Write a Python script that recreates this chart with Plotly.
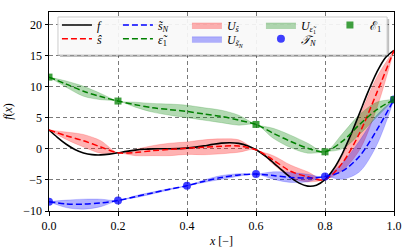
import plotly.graph_objects as go

# ---------------- data ----------------
x_f = [0.0, 0.025, 0.05, 0.075, 0.1, 0.125, 0.15, 0.175, 0.2, 0.225, 0.25, 0.275, 0.3, 0.325,
       0.35, 0.375, 0.4, 0.425, 0.45, 0.475, 0.5, 0.525, 0.55, 0.575, 0.6, 0.625, 0.65, 0.675,
       0.7, 0.725, 0.75, 0.775, 0.8, 0.825, 0.85, 0.875, 0.9, 0.925, 0.95, 0.975, 1.0]
f_true = [3.027, 1.813, 0.738, -0.100, -0.657, -0.935, -0.978, -0.854, -0.640, -0.407, -0.210,
          -0.079, -0.016, -0.000, 0.002, 0.030, 0.115, 0.270, 0.483, 0.717, 0.909, 0.986, 0.871,
          0.503, -0.150, -1.074, -2.209, -3.439, -4.606, -5.522, -5.993, -5.845, -4.951, -3.253,
          -0.799, 2.272, 5.712, 9.187, 12.300, 14.648, 15.830]

x_s = [0.0, 0.05, 0.1, 0.15, 0.2, 0.25, 0.3, 0.35, 0.4, 0.45, 0.5, 0.55, 0.6, 0.65, 0.7, 0.75,
       0.8, 0.85, 0.9, 0.95, 1.0]
s_hat = [3.03, 2.1, 1.3, 0.3, -0.64, -0.6, -0.3, -0.1, 0.1, 0.25, 0.4, 0.45, -0.15, -1.8, -3.6,
         -4.5, -4.95, -2.3, 2.5, 9.0, 15.83]
s_hat_sd = [0.0, 0.6, 1.0, 1.0, 0.0, 0.5, 0.8, 1.0, 1.0, 1.2, 1.2, 1.0, 0.0, 0.7, 1.0, 0.8,
            0.0, 1.2, 2.7, 2.5, 0.0]
s_low = [-8.5, -8.85, -8.9, -8.7, -8.32, -7.7, -7.1, -6.5, -5.94, -5.2, -4.6, -4.2, -4.07, -4.3,
         -4.6, -4.7, -4.47, -3.6, -1.2, 3.0, 7.92]
s_low_sd = [0.0, 0.6, 0.8, 0.6, 0.0, 0.15, 0.15, 0.1, 0.0, 0.2, 0.3, 0.2, 0.0, 0.6, 0.8, 0.6,
            0.0, 1.3, 2.5, 2.4, 0.0]
err = [11.53, 10.4, 9.25, 8.4, 7.68, 7.1, 6.6, 6.3, 6.0, 5.6, 5.2, 4.6, 3.92, 2.5, 1.2, 0.1,
       -0.48, 1.2, 3.9, 6.3, 7.91]
err_sd = [0.0, 0.5, 0.8, 0.5, 0.0, 0.4, 0.7, 0.9, 1.0, 1.0, 1.0, 0.8, 0.0, 0.8, 1.0, 0.8,
          0.0, 1.2, 1.6, 1.2, 0.0]

x_TN = [0.0, 0.2, 0.4, 0.6, 0.8, 1.0]
y_TN = [-8.5, -8.32, -5.94, -4.07, -4.47, 7.92]
x_E1 = [0.0, 0.2, 0.6, 0.8, 1.0]
y_E1 = [11.53, 7.68, 3.92, -0.48, 7.91]

x_ticks = [0.0, 0.2, 0.4, 0.6, 0.8, 1.0]
y_ticks = [-10, -5, 0, 5, 10, 15, 20]

FONT = "Liberation Serif"
# extra legend entry widths in px per column
COLW = [16, 24, 29, 24, 10]

fig = go.Figure()


def band(mean, sd, fill, name, leg, col, rank):
    lo = [m - s for m, s in zip(mean, sd)]
    hi = [m + s for m, s in zip(mean, sd)]
    fig.add_trace(go.Scatter(x=x_s, y=lo, mode="lines",
                             line=dict(width=0.6, color=fill, shape="spline", smoothing=0.9),
                             showlegend=False, hoverinfo="skip"))
    fig.add_trace(go.Scatter(x=x_s, y=hi, mode="lines",
                             line=dict(width=0.6, color=fill, shape="spline", smoothing=0.9),
                             fill="tonexty", fillcolor=fill, name=name, legend=leg,
                             legendwidth=COLW[col], legendrank=rank))


band(s_hat, s_hat_sd, "rgba(255,0,0,0.3)", "<i>U</i><sub><i>ŝ</i></sub>", "legend", 2, 3)
band(s_low, s_low_sd, "rgba(0,0,255,0.3)", "<i>U</i><sub><i>s̃<sub>N</sub></i></sub>", "legend2", 2, 3)
band(err, err_sd, "rgba(0,128,0,0.3)", "<i>U</i><sub><i>ε̃</i><sub>1</sub></sub>", "legend", 3, 4)

fig.add_trace(go.Scatter(x=x_f, y=f_true, mode="lines",
                         line=dict(color="black", width=1.6, shape="spline", smoothing=0.9),
                         name="<i>f</i>", legend="legend", legendwidth=COLW[0], legendrank=1))
dash = "6px,3px"
fig.add_trace(go.Scatter(x=x_s, y=s_hat, mode="lines",
                         line=dict(color="#ff0000", width=1.5, dash=dash, shape="spline", smoothing=0.9),
                         name="<i>ŝ</i>", legend="legend2", legendwidth=COLW[0], legendrank=1))
fig.add_trace(go.Scatter(x=x_s, y=s_low, mode="lines",
                         line=dict(color="#0000ff", width=1.5, dash=dash, shape="spline", smoothing=0.9),
                         name="<i>s̃</i><sub><i>N</i></sub>", legend="legend", legendwidth=COLW[1], legendrank=2))
fig.add_trace(go.Scatter(x=x_s, y=err, mode="lines",
                         line=dict(color="#008000", width=1.5, dash=dash, shape="spline", smoothing=0.9),
                         name="<i>ε̃</i><sub>1</sub>", legend="legend2", legendwidth=COLW[1], legendrank=2))
fig.add_trace(go.Scatter(x=x_TN, y=y_TN, mode="markers",
                         marker=dict(symbol="circle", size=8, color="rgba(0,0,255,0.75)"),
                         name="<i>𝒯</i><sub><i>N</i></sub>", legend="legend2", legendwidth=COLW[3], legendrank=4))
fig.add_trace(go.Scatter(x=x_E1, y=y_E1, mode="markers",
                         marker=dict(symbol="square", size=7, color="rgba(0,128,0,0.75)"),
                         name="ℰ<sub>1</sub>", legend="legend", legendwidth=COLW[4], legendrank=5))

axis_common = dict(showline=True, linecolor="black", linewidth=1, mirror=True,
                   ticks="outside", ticklen=3.5, tickwidth=0.8, tickcolor="black",
                   showgrid=True, gridcolor="#7a7a7a", gridwidth=0.8, griddash="4px,3px",
                   zeroline=False, automargin=False,
                   tickfont=dict(family=FONT, size=12, color="black"))

fig.update_xaxes(range=[0, 1], tickvals=x_ticks, tickformat=".1f",
                 title=dict(text="<i>x</i> [−]", font=dict(family=FONT, size=12, color="black"), standoff=4),
                 **axis_common)
fig.update_yaxes(range=[-10, 22], tickvals=y_ticks,
                 title=dict(text="<i>f</i>(<i>x</i>)", font=dict(family=FONT, size=12, color="black"), standoff=8),
                 **axis_common)

leg_common = dict(orientation="h", xanchor="left", yanchor="middle",
                  bgcolor="rgba(0,0,0,0)", borderwidth=0, traceorder="normal",
                  font=dict(family=FONT, size=12, color="black"), itemwidth=30)

fig.update_layout(
    width=415, height=249,
    margin=dict(l=49, r=21, t=12, b=38, autoexpand=False),
    paper_bgcolor="white", plot_bgcolor="white",
    font=dict(family=FONT, size=12, color="black"),
    showlegend=True,
    legend=dict(x=0.023, y=0.935, **leg_common),
    legend2=dict(x=0.023, y=0.865, **leg_common),
    shapes=[
        dict(type="rect", xref="paper", yref="paper", x0=0.032, x1=0.986, y0=0.774, y1=0.965,
             fillcolor="rgba(0,0,0,0.25)", line=dict(width=0), layer="above"),
        dict(type="rect", xref="paper", yref="paper", x0=0.026, x1=0.98, y0=0.784, y1=0.975,
             fillcolor="rgba(255,255,255,0.9)", line=dict(color="#cccccc", width=1), layer="above"),
    ],
)

fig.write_html("out.html", config={"displayModeBar": False},
               post_script="document.body.style.margin='0';")
